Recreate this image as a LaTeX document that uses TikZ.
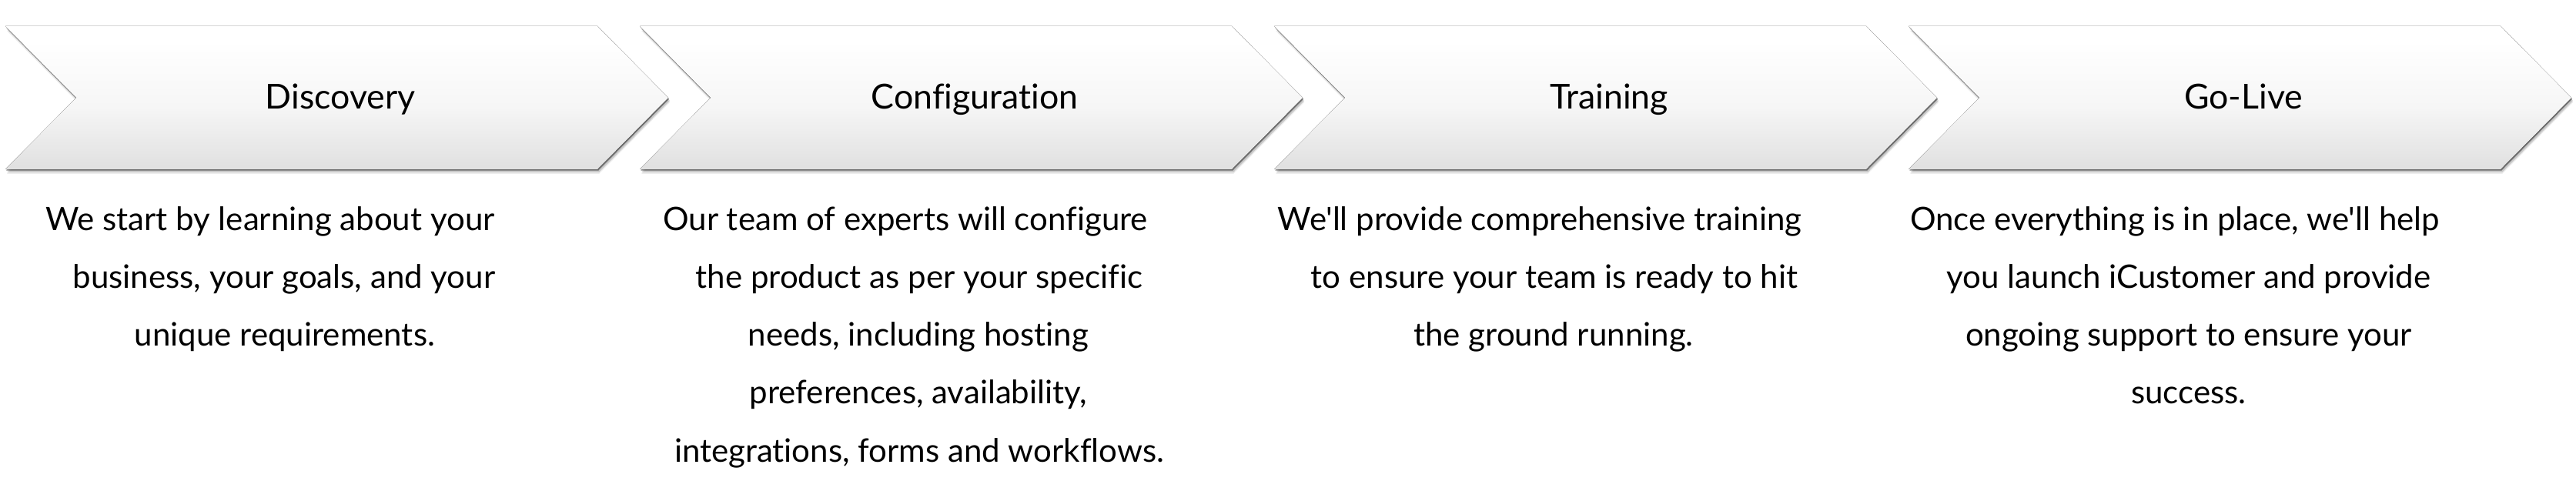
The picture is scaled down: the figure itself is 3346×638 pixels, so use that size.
\documentclass[tikz,border=0pt]{standalone}
\usepackage{fontspec}
\setmainfont{Lato}[Ligatures={TeXOff,NoCommon}]
\definecolor{chevbot}{HTML}{E0E0E0}
\definecolor{chevmid}{HTML}{F6F6F6}
\pgfdeclareverticalshading{chevshade}{100bp}{color(0bp)=(chevbot); color(25bp)=(chevbot); color(47bp)=(chevmid); color(70bp)=(white); color(100bp)=(white)}
\tikzset{
  ttl/.style={anchor=base, inner sep=0pt, font=\fontsize{12.7pt}{14pt}\selectfont, text=black},
  body/.style={anchor=base, inner sep=0pt, font=\fontsize{11.95pt}{14pt}\selectfont, text=black},
  chevfill/.style={shading=chevshade},
}
\begin{document}
\begin{tikzpicture}[x=0.1mm,y=-0.1mm]
\useasboundingbox[fill=white] (0,0) rectangle (3346,638);
\foreach \L in {7,831,1655,2479}{
  \foreach \dx/\dy/\op in {0/-1/0.05, 1/1/0.25, 1/2/0.3, 2/4/0.15, 2/6/0.07}{
    \fill[black,opacity=\op,shift={(\dx,\dy)}] (\L,34) -- (\L+769,34) -- (\L+861,127) -- (\L+769,220) -- (\L,220) -- (\L+92,127) -- cycle;
  }
  \fill[chevfill] (\L,34) -- (\L+769,34) -- (\L+861,127) -- (\L+769,220) -- (\L,220) -- (\L+92,127) -- cycle;
}
\node[ttl] (t1) at (442,142) {Discovery};
\node[ttl] (t2) at (1266,142) {Configuration};
\node[ttl] (t3) at (2090,142) {Training};
\node[ttl] (t4) at (2914,142) {Go-Live};

\node[body] (a1) at (351,300) {We start by learning about your};
\node[body] (a2) at (369,375) {business, your goals, and your};
\node[body] (a3) at (370,450) {unique requirements.};

\node[body] (b1) at (1176,300) {Our team of experts will configure};
\node[body] (b2) at (1194,375) {the product as per your specific};
\node[body] (b3) at (1193,450) {needs, including hosting};
\node[body] (b4) at (1193,525) {preferences, availability,};
\node[body] (b5) at (1194,600) {integrations, forms and workflows.};

\node[body] (c1) at (2000,300) {We'll provide comprehensive training};
\node[body] (c2) at (2019,375) {to ensure your team is ready to hit};
\node[body] (c3) at (2018,450) {the ground running.};

\node[body] (d1) at (2825,300) {Once everything is in place, we'll help};
\node[body] (d2) at (2843,375) {you launch iCustomer and provide};
\node[body] (d3) at (2843,450) {ongoing support to ensure your};
\node[body] (d4) at (2843,525) {success.};
\end{tikzpicture}
\end{document}
